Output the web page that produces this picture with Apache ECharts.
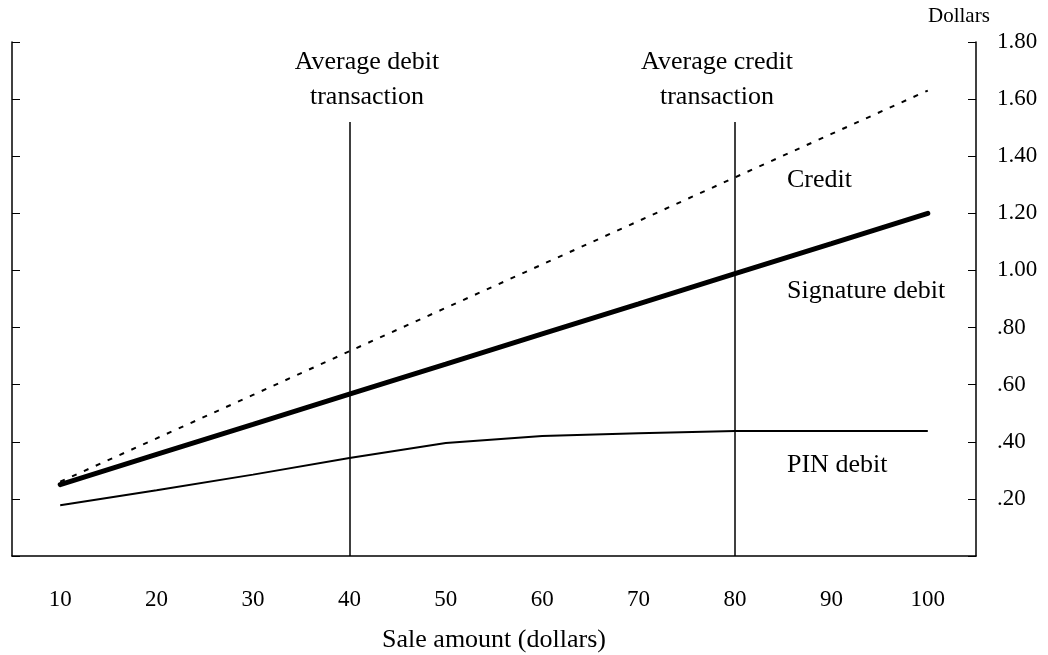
<!DOCTYPE html>
<html>
<head>
<meta charset="utf-8">
<script src="https://cdn.jsdelivr.net/npm/echarts@6/dist/echarts.min.js"></script>
<style>
    html, body { margin: 0; padding: 0; background: #fff; }
    #main { width: 1048px; height: 655px; }
</style>
</head>
<body>
<div id="main"></div>
<script>
    // sale amounts (dollars) on the x axis
    var saleAmounts = ['10', '20', '30', '40', '50', '60', '70', '80', '90', '100'];
    // cost per transaction, dollars
    var creditCost = [0.26, 0.412, 0.564, 0.717, 0.869, 1.021, 1.173, 1.326, 1.478, 1.63];
    var signatureCost = [0.25, 0.356, 0.461, 0.567, 0.672, 0.778, 0.883, 0.989, 1.094, 1.20];
    var pinCost = [0.178, 0.23, 0.285, 0.343, 0.396, 0.42, 0.43, 0.438, 0.438, 0.438];
    // average transaction markers
    var avgDebitSale = '40';
    var avgCreditSale = '80';
    var markerTop = 1.52;

    var serif = 'Liberation Serif';
    var black = '#000';

    function dollarLabel(v) {
        if (v === 0) return '';
        var s = v.toFixed(2);
        return v < 1 ? s.slice(1) : s;
    }

    var chart = echarts.init(document.getElementById('main'));
    var option = {
        animation: false,
        backgroundColor: '#fff',
        grid: { left: 12, right: 72, top: 42, bottom: 99, containLabel: false, outerBoundsMode: 'none' },
        xAxis: {
            type: 'category',
            data: saleAmounts,
            boundaryGap: true,
            name: 'Sale amount (dollars)',
            nameLocation: 'middle',
            nameGap: 71,
            nameTextStyle: { fontFamily: serif, fontSize: 26, color: black },
            axisLine: { lineStyle: { color: black, width: 1.5 } },
            axisTick: { inside: true, length: 8, lineStyle: { color: black, width: 1 } },
            axisLabel: { margin: 32, fontFamily: serif, fontSize: 23, color: black },
            splitLine: { show: false }
        },
        yAxis: [{
            type: 'value',
            position: 'left',
            min: 0, max: 1.8, interval: 0.2,
            axisLine: { show: true, lineStyle: { color: black, width: 1.5 } },
            axisTick: { show: true, inside: true, length: 8, lineStyle: { color: black } },
            axisLabel: { show: false },
            splitLine: { show: false }
        }, {
            type: 'value',
            position: 'right',
            min: 0, max: 1.8, interval: 0.2,
            axisLine: { show: true, lineStyle: { color: black, width: 1.5 } },
            axisTick: { show: true, inside: true, length: 8, lineStyle: { color: black } },
            axisLabel: { margin: 21, fontFamily: serif, fontSize: 23, color: black, formatter: dollarLabel },
            splitLine: { show: false }
        }],
        series: [{
            name: 'Credit',
            type: 'line',
            yAxisIndex: 1,
            data: creditCost,
            symbol: 'none',
            lineStyle: { color: black, width: 2, type: [5, 8] },
            z: 2
        }, {
            name: 'PIN debit',
            type: 'line',
            yAxisIndex: 1,
            data: pinCost,
            symbol: 'none',
            lineStyle: { color: black, width: 2 },
            z: 3,
            markLine: {
                silent: true,
                symbol: 'none',
                label: { show: false },
                lineStyle: { color: black, width: 1.5, type: 'solid' },
                data: [
                    [{ coord: [avgDebitSale, 0] }, { coord: [avgDebitSale, markerTop] }],
                    [{ coord: [avgCreditSale, 0] }, { coord: [avgCreditSale, markerTop] }]
                ]
            }
        }, {
            name: 'Signature debit',
            type: 'line',
            yAxisIndex: 1,
            data: signatureCost,
            symbol: 'none',
            lineStyle: { color: black, width: 5, cap: 'round' },
            z: 4
        }],
        graphic: [
            { type: 'text', left: 928, top: 6, style: { text: 'Dollars', font: '21px "Liberation Serif"', fill: black } },
            { type: 'text', x: 367, y: 80, style: { text: 'Average debit\ntransaction', font: '26px "Liberation Serif"', lineHeight: 35, fill: black, align: 'center', verticalAlign: 'middle' } },
            { type: 'text', x: 717, y: 80, style: { text: 'Average credit\ntransaction', font: '26px "Liberation Serif"', lineHeight: 35, fill: black, align: 'center', verticalAlign: 'middle' } },
            { type: 'text', x: 787, y: 180, style: { text: 'Credit', font: '26px "Liberation Serif"', fill: black, verticalAlign: 'middle' } },
            { type: 'text', x: 787, y: 291, style: { text: 'Signature debit', font: '26px "Liberation Serif"', fill: black, verticalAlign: 'middle' } },
            { type: 'text', x: 787, y: 465, style: { text: 'PIN debit', font: '26px "Liberation Serif"', fill: black, verticalAlign: 'middle' } }
        ]
    };
    chart.setOption(option);
</script>
</body>
</html>
